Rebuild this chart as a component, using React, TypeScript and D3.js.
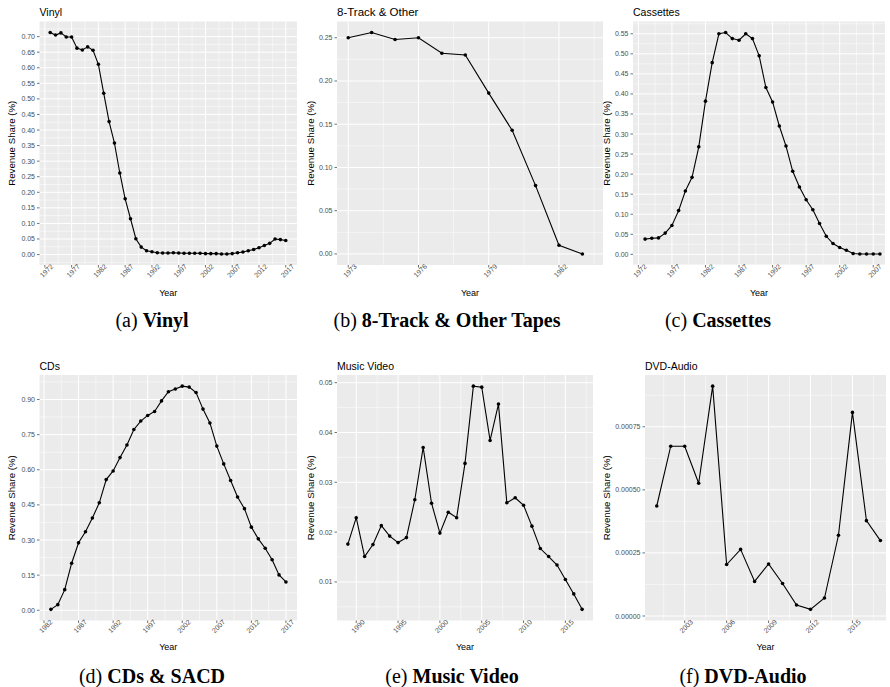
import React from "react";
import * as d3 from "d3";

// ---------- DATA ----------
const vinylYears = [1973,1974,1975,1976,1977,1978,1979,1980,1981,1982,1983,1984,1985,1986,1987,1988,1989,1990,1991,1992,1993,1994,1995,1996,1997,1998,1999,2000,2001,2002,2003,2004,2005,2006,2007,2008,2009,2010,2011,2012,2013,2014,2015,2016,2017];
const vinylShare = [0.713,0.705,0.712,0.699,0.699,0.663,0.657,0.667,0.656,0.611,0.518,0.427,0.358,0.262,0.179,0.115,0.051,0.024,0.012,0.009,0.006,0.005,0.005,0.006,0.005,0.004,0.004,0.004,0.004,0.003,0.003,0.003,0.002,0.002,0.003,0.006,0.008,0.012,0.016,0.022,0.029,0.036,0.050,0.048,0.045];

const eightTrackYears = [1973,1974,1975,1976,1977,1978,1979,1980,1981,1982,1983];
const eightTrackShare = [0.250,0.256,0.248,0.250,0.232,0.230,0.186,0.143,0.079,0.010,0.000];

const cassetteYears = [1973,1974,1975,1976,1977,1978,1979,1980,1981,1982,1983,1984,1985,1986,1987,1988,1989,1990,1991,1992,1993,1994,1995,1996,1997,1998,1999,2000,2001,2002,2003,2004,2005,2006,2007,2008];
const cassetteShare = [0.038,0.040,0.041,0.053,0.072,0.109,0.158,0.192,0.268,0.382,0.478,0.550,0.553,0.538,0.534,0.550,0.538,0.495,0.416,0.380,0.320,0.270,0.207,0.168,0.136,0.111,0.077,0.045,0.027,0.017,0.010,0.002,0.001,0.001,0.001,0.001];

const cdYears = [1983,1984,1985,1986,1987,1988,1989,1990,1991,1992,1993,1994,1995,1996,1997,1998,1999,2000,2001,2002,2003,2004,2005,2006,2007,2008,2009,2010,2011,2012,2013,2014,2015,2016,2017];
const cdShare = [0.004,0.024,0.088,0.201,0.288,0.335,0.394,0.459,0.558,0.595,0.652,0.706,0.772,0.808,0.832,0.849,0.894,0.933,0.945,0.957,0.953,0.930,0.859,0.800,0.701,0.625,0.554,0.484,0.434,0.355,0.305,0.265,0.216,0.151,0.121];

const videoYears = [1989,1990,1991,1992,1993,1994,1995,1996,1997,1998,1999,2000,2001,2002,2003,2004,2005,2006,2007,2008,2009,2010,2011,2012,2013,2014,2015,2016,2017];
const videoShare = [0.0176,0.0229,0.0151,0.0175,0.0213,0.0192,0.0179,0.0189,0.0265,0.0370,0.0258,0.0198,0.0240,0.0229,0.0338,0.0493,0.0491,0.0384,0.0457,0.0259,0.0269,0.0254,0.0212,0.0167,0.0151,0.0134,0.0105,0.0076,0.0045];

const dvdYears = [2001,2002,2003,2004,2005,2006,2007,2008,2009,2010,2011,2012,2013,2014,2015,2016,2017];
const dvdShare = [0.000436,0.000673,0.000673,0.000526,0.000911,0.000204,0.000264,0.000137,0.000206,0.000129,0.0000435,0.0000264,0.0000712,0.000320,0.000807,0.000378,0.000299];

// tick labels
const vinylXTicks = [1972,1977,1982,1987,1992,1997,2002,2007,2012,2017];
const vinylYTicks = [0,0.05,0.1,0.15,0.2,0.25,0.3,0.35,0.4,0.45,0.5,0.55,0.6,0.65,0.7];
const eightXTicks = [1973,1976,1979,1982];
const eightYTicks = [0,0.05,0.1,0.15,0.2,0.25];
const cassXTicks = [1972,1977,1982,1987,1992,1997,2002,2007];
const cassYTicks = [0,0.05,0.1,0.15,0.2,0.25,0.3,0.35,0.4,0.45,0.5,0.55];
const cdXTicks = [1982,1987,1992,1997,2002,2007,2012,2017];
const cdYTicks = [0,0.15,0.3,0.45,0.6,0.75,0.9];
const videoXTicks = [1990,1995,2000,2005,2010,2015];
const videoYTicks = [0.01,0.02,0.03,0.04,0.05];
const dvdXTicks = [2003,2006,2009,2012,2015];
const dvdYTicks = [0,0.00025,0.0005,0.00075];

const titles = ["Vinyl", "8-Track & Other", "Cassettes", "CDs", "Music Video", "DVD-Audio"];
const captionPrefix = ["(a) ", "(b) ", "(c) ", "(d) ", "(e) ", "(f) "];
const captionBold = ["Vinyl", "8-Track & Other Tapes", "Cassettes", "CDs & SACD", "Music Video", "DVD-Audio"];

// ---------- LAYOUT ----------
type Panel = {
  years: number[]; values: number[]; xTicks: number[]; yTicks: number[];
  xDomain: [number, number]; x0: number; x1: number; y0: number; y1: number;
  yLabelX: number; fmt: string; title: string; capPre: string; capBold: string; capX: number; capY: number;
  titleY: number; yearY: number; titleSize: number;
};

const ROW1 = { y0: 21.5, y1: 265, titleY: 16, yearY: 296, capY: 327 };
const ROW2 = { y0: 375, y1: 620.5, titleY: 370, yearY: 650, capY: 683 };

const panels: Panel[] = [
  { years: vinylYears, values: vinylShare, xTicks: vinylXTicks, yTicks: vinylYTicks, xDomain: [1971.0, 2019.1], x0: 39.5, x1: 297, ...ROW1, yLabelX: 11.7, fmt: ".2f", title: titles[0], capPre: captionPrefix[0], capBold: captionBold[0], capX: 152, titleSize: 10.5 },
  { years: eightTrackYears, values: eightTrackShare, xTicks: eightXTicks, yTicks: eightYTicks, xDomain: [1972.52, 1983.88], x0: 337, x1: 603, ...ROW1, yLabelX: 310, fmt: ".2f", title: titles[1], capPre: captionPrefix[1], capBold: captionBold[1], capX: 447, titleSize: 11.5 },
  { years: cassetteYears, values: cassetteShare, xTicks: cassXTicks, yTicks: cassYTicks, xDomain: [1971.2, 2008.75], x0: 633, x1: 885, ...ROW1, yLabelX: 606.5, fmt: ".2f", title: titles[2], capPre: captionPrefix[2], capBold: captionBold[2], capX: 718, titleSize: 10.5 },
  { years: cdYears, values: cdShare, xTicks: cdXTicks, yTicks: cdYTicks, xDomain: [1981.35, 2018.6], x0: 39.5, x1: 297, ...ROW2, yLabelX: 11.7, fmt: ".2f", title: titles[3], capPre: captionPrefix[3], capBold: captionBold[3], capX: 152, titleSize: 10.5 },
  { years: videoYears, values: videoShare, xTicks: videoXTicks, yTicks: videoYTicks, xDomain: [1987.7, 2018.3], x0: 337, x1: 593, ...ROW2, yLabelX: 310, fmt: ".2f", title: titles[4], capPre: captionPrefix[4], capBold: captionBold[4], capX: 452, titleSize: 10.5 },
  { years: dvdYears, values: dvdShare, xTicks: dvdXTicks, yTicks: dvdYTicks, xDomain: [2000.16, 2017.4], x0: 645, x1: 886, ...ROW2, yLabelX: 606, fmt: ".5f", title: titles[5], capPre: captionPrefix[5], capBold: captionBold[5], capX: 743, titleSize: 10.5 },
];

const SANS = "'Liberation Sans', Arial, sans-serif";
const SERIF = "'Liberation Serif', 'Times New Roman', serif";

function minorBreaks(ticks: number[], domain: number[]): number[] {
  const step = ticks[1] - ticks[0];
  const out: number[] = [];
  const ext = [ticks[0] - step, ...ticks, ticks[ticks.length - 1] + step];
  for (let i = 0; i < ext.length - 1; i++) {
    const m = (ext[i] + ext[i + 1]) / 2;
    if (m > Math.min(domain[0], domain[1]) && m < Math.max(domain[0], domain[1])) out.push(m);
  }
  return out;
}

function PanelChart({ p }: { p: Panel }) {
  const x = d3.scaleLinear().domain(p.xDomain).range([p.x0, p.x1]);
  const [mn, mx] = d3.extent(p.values) as [number, number];
  const pad = (mx - mn) * 0.05;
  const yDom: [number, number] = [mn - pad, mx + pad];
  const y = d3.scaleLinear().domain(yDom).range([p.y1, p.y0]);
  const fmt = d3.format(p.fmt);
  const pts = p.years.map((yr, i) => [yr, p.values[i]] as [number, number]);
  const line = d3.line<[number, number]>().x((d) => x(d[0])).y((d) => y(d[1]));
  const xMinor = minorBreaks(p.xTicks, p.xDomain);
  const yMinor = minorBreaks(p.yTicks, yDom);
  const cx = (p.x0 + p.x1) / 2;
  const cy = (p.y0 + p.y1) / 2;
  return (
    <g>
      <rect x={p.x0} y={p.y0} width={p.x1 - p.x0} height={p.y1 - p.y0} fill="#EBEBEB" />
      {yMinor.map((v, i) => (
        <line key={"ym" + i} x1={p.x0} x2={p.x1} y1={y(v)} y2={y(v)} stroke="#ffffff" strokeWidth={0.5} />
      ))}
      {xMinor.map((v, i) => (
        <line key={"xm" + i} x1={x(v)} x2={x(v)} y1={p.y0} y2={p.y1} stroke="#ffffff" strokeWidth={0.5} />
      ))}
      {p.yTicks.map((v, i) => (
        <line key={"yM" + i} x1={p.x0} x2={p.x1} y1={y(v)} y2={y(v)} stroke="#ffffff" strokeWidth={1} />
      ))}
      {p.xTicks.map((v, i) => (
        <line key={"xM" + i} x1={x(v)} x2={x(v)} y1={p.y0} y2={p.y1} stroke="#ffffff" strokeWidth={1} />
      ))}
      <path d={line(pts) || ""} fill="none" stroke="#000000" strokeWidth={1.1} />
      {pts.map((d, i) => (
        <circle key={"pt" + i} cx={x(d[0])} cy={y(d[1])} r={1.8} fill="#000000" />
      ))}
      {/* y axis */}
      {p.yTicks.map((v, i) => (
        <g key={"yt" + i}>
          <line x1={p.x0 - 2.5} x2={p.x0} y1={y(v)} y2={y(v)} stroke="#333333" strokeWidth={0.7} />
          <text x={p.x0 - 4.5} y={y(v)} textAnchor="end" dominantBaseline="central" fontSize={7} fill="#4D4D4D" fontFamily={SANS}>
            {fmt(v)}
          </text>
        </g>
      ))}
      {/* x axis */}
      {p.xTicks.map((v, i) => (
        <g key={"xt" + i}>
          <line x1={x(v)} x2={x(v)} y1={p.y1} y2={p.y1 + 2.5} stroke="#333333" strokeWidth={0.7} />
          <text
            transform={`translate(${x(v)},${p.y1 + 4}) rotate(-45)`}
            textAnchor="middle"
            dominantBaseline="hanging"
            fontSize={7}
            fill="#4D4D4D"
            fontFamily={SANS}
          >
            {String(v)}
          </text>
        </g>
      ))}
      <text x={p.x0} y={p.titleY} fontSize={p.titleSize} fill="#000000" fontFamily={SANS}>{p.title}</text>
      <text x={cx} y={p.yearY} textAnchor="middle" fontSize={9} fill="#000000" fontFamily={SANS}>Year</text>
      <text
        transform={`translate(${p.yLabelX},${cy}) rotate(-90)`}
        textAnchor="middle"
        dominantBaseline="central"
        fontSize={9.7}
        fill="#000000"
        fontFamily={SANS}
      >
        Revenue Share (%)
      </text>
      <text x={p.capX} y={p.capY} textAnchor="middle" fontSize={20} fill="#000000" fontFamily={SERIF}>
        <tspan>{p.capPre}</tspan>
        <tspan fontWeight="bold">{p.capBold}</tspan>
      </text>
    </g>
  );
}

export default function App() {
  return (
    <svg width={890} height={687} viewBox="0 0 890 687" style={{ display: "block", position: "absolute", left: 0, top: 0, background: "#ffffff" }}>
      <rect x={0} y={0} width={890} height={687} fill="#ffffff" />
      {panels.map((p, i) => (
        <PanelChart key={i} p={p} />
      ))}
    </svg>
  );
}
